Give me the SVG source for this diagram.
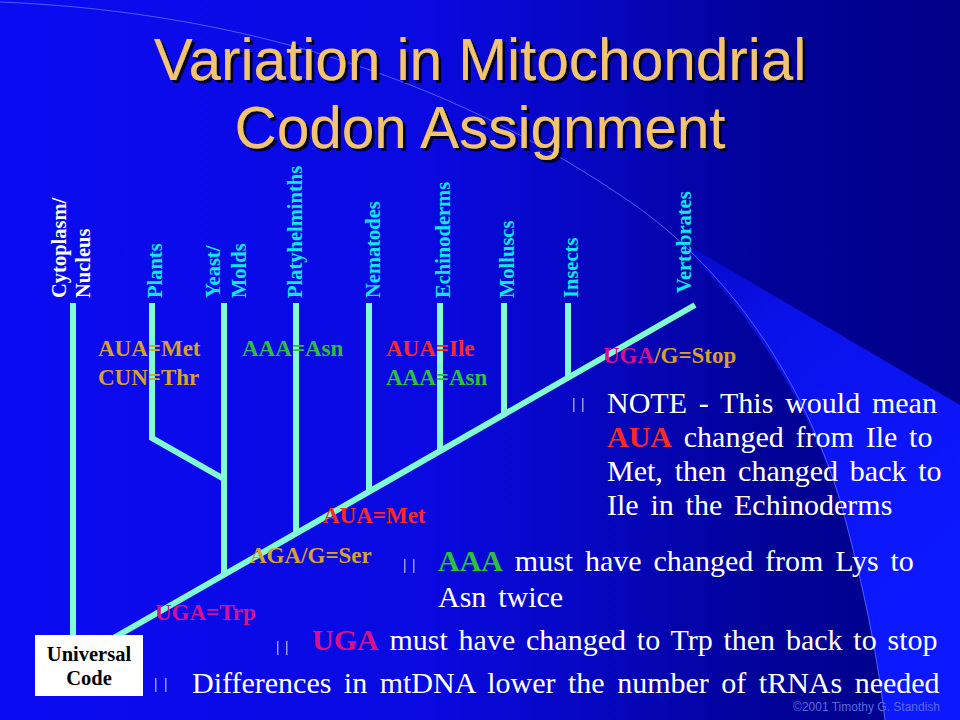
<svg xmlns="http://www.w3.org/2000/svg" width="960" height="720" viewBox="0 0 960 720">
<defs>
<linearGradient id="bg" x1="0" y1="0" x2="960" y2="0" gradientUnits="userSpaceOnUse">
<stop offset="0" stop-color="#0b0bf2"/>
<stop offset="0.45" stop-color="#0909e0"/>
<stop offset="0.62" stop-color="#0606c0"/>
<stop offset="0.8" stop-color="#020298"/>
<stop offset="1" stop-color="#000088"/>
</linearGradient>
<linearGradient id="wedge" x1="680" y1="240" x2="960" y2="560" gradientUnits="userSpaceOnUse">
<stop offset="0" stop-color="#0707c8"/>
<stop offset="0.3" stop-color="#0a12ea"/>
<stop offset="1" stop-color="#0c18ff"/>
</linearGradient>
<filter id="shadow" x="-5%" y="-20%" width="110%" height="140%">
<feDropShadow dx="3" dy="3" stdDeviation="0.6" flood-color="#000033" flood-opacity="1"/>
</filter>
<style>
.title{font-family:"Liberation Sans",Arial,sans-serif;font-size:58.5px;fill:#f2c46d;text-anchor:middle}
.br{fill:none;stroke:#80ffd4;stroke-width:6;stroke-linecap:butt}
.vl{font-family:"Liberation Serif","Times New Roman",serif;font-size:20.5px;font-weight:bold;fill:#10e8ff}
.vw{fill:#ffffff}
.cl{font-family:"Liberation Serif","Times New Roman",serif;font-size:23px;font-weight:bold}
.gold{fill:#d8a12a}
.green{fill:#2ec03a}
.red{fill:#ff2a1a}
.mag{fill:#d8108c}
.bt{font-family:"Liberation Serif","Times New Roman",serif;font-size:30px;fill:#ffffff;word-spacing:4.3px}
.b{font-weight:bold}
.bul{fill:#9a9ad0}
.uc{font-family:"Liberation Serif","Times New Roman",serif;font-size:20.5px;font-weight:bold;fill:#000000;text-anchor:middle}
</style>
</defs>

<g id="background">
<rect x="0" y="0" width="960" height="720" fill="url(#bg)"/>
<path d="M672,236 C730,290 800,380 840,500 C865,590 878,660 885,720 L960,720 L960,405 Z" fill="url(#wedge)"/>
<path d="M0,2 C200,10 420,60 620,195 C720,260 800,370 840,500 C865,590 878,660 885,720" fill="none" stroke="#6070ff" stroke-width="1" opacity="0.8"/>
</g>

<g id="title" filter="url(#shadow)">
<text class="title" x="480" y="80">Variation in Mitochondrial</text>
<text class="title" x="480" y="148">Codon Assignment</text>
</g>

<g id="connectors">
<line class="br" x1="110" y1="640" x2="695" y2="305"/>
<line class="br" x1="73" y1="303" x2="73" y2="636"/>
<polyline class="br" points="152,303 152,438 224,479"/>
<line class="br" x1="224" y1="303" x2="224" y2="575"/>
<line class="br" x1="296" y1="303" x2="296" y2="534"/>
<line class="br" x1="369" y1="303" x2="369" y2="493"/>
<line class="br" x1="440" y1="303" x2="440" y2="452"/>
<line class="br" x1="504" y1="303" x2="504" y2="415"/>
<line class="br" x1="568" y1="303" x2="568" y2="378"/>
</g>

<g id="n-universal">
<rect x="35" y="635" width="108" height="61" fill="#ffffff"/>
<text class="uc" x="89" y="661">Universal</text>
<text class="uc" x="89" y="685">Code</text>
</g>

<g id="n-cytoplasm">
<text class="vl vw" transform="translate(66,298) rotate(-90)">Cytoplasm/</text>
<text class="vl vw" transform="translate(90,298) rotate(-90)">Nucleus</text>
</g>
<g id="n-plants"><text class="vl" transform="translate(162,298) rotate(-90)">Plants</text></g>
<g id="n-yeast">
<text class="vl" transform="translate(220,298) rotate(-90)">Yeast/</text>
<text class="vl" transform="translate(246,298) rotate(-90)">Molds</text>
</g>
<g id="n-platyhelminths"><text class="vl" transform="translate(302,298) rotate(-90)">Platyhelminths</text></g>
<g id="n-nematodes"><text class="vl" transform="translate(380,298) rotate(-90)">Nematodes</text></g>
<g id="n-echinoderms"><text class="vl" transform="translate(450,298) rotate(-90)">Echinoderms</text></g>
<g id="n-molluscs"><text class="vl" transform="translate(514,298) rotate(-90)">Molluscs</text></g>
<g id="n-insects"><text class="vl" transform="translate(578,298) rotate(-90)">Insects</text></g>
<g id="n-vertebrates"><text class="vl" transform="translate(691,293) rotate(-90)">Vertebrates</text></g>

<g id="codon-labels">
<text class="cl gold" x="98" y="356">AUA=Met</text>
<text class="cl gold" x="98" y="385">CUN=Thr</text>
<text class="cl green" x="242" y="356">AAA=Asn</text>
<text class="cl red" x="386" y="356">AUA=Ile</text>
<text class="cl green" x="386" y="385">AAA=Asn</text>
<text class="cl" x="603" y="363"><tspan class="mag">UGA</tspan><tspan class="gold">/G=Stop</tspan></text>
<text class="cl red" x="323" y="523">AUA=Met</text>
<text class="cl gold" x="250" y="563">AGA/G=Ser</text>
<text class="cl mag" x="155" y="620">UGA=Trp</text>
</g>

<g id="bullets">
<rect class="bul" x="573" y="398" width="1.5" height="14"/><rect class="bul" x="582" y="398" width="1.5" height="14"/>
<rect class="bul" x="404" y="559" width="1.5" height="14"/><rect class="bul" x="413" y="559" width="1.5" height="14"/>
<rect class="bul" x="277" y="641" width="1.5" height="14"/><rect class="bul" x="286" y="641" width="1.5" height="14"/>
<rect class="bul" x="155" y="678" width="1.5" height="14"/><rect class="bul" x="165" y="678" width="1.5" height="14"/>
</g>

<g id="notes">
<text class="bt" x="607" y="413">NOTE - This would mean</text>
<text class="bt" x="607" y="447"><tspan class="b" fill="#ff2a1a">AUA</tspan> changed from Ile to</text>
<text class="bt" x="607" y="481">Met, then changed back to</text>
<text class="bt" x="607" y="515">Ile in the Echinoderms</text>
<text class="bt" x="438" y="571"><tspan class="b" fill="#2ec03a">AAA</tspan> must have changed from Lys to</text>
<text class="bt" x="438" y="607">Asn twice</text>
<text class="bt" x="312" y="650" style="word-spacing:3.3px"><tspan class="b" fill="#d8108c">UGA</tspan> must have changed to Trp then back to stop</text>
<text class="bt" x="192" y="693" style="word-spacing:5px">Differences in mtDNA lower the number of tRNAs needed</text>
</g>

<g id="copyright">
<text x="940" y="711" text-anchor="end" font-family="'Liberation Sans',Arial,sans-serif" font-size="12" fill="#5a6ae0">©2001 Timothy G. Standish</text>
</g>
</svg>
